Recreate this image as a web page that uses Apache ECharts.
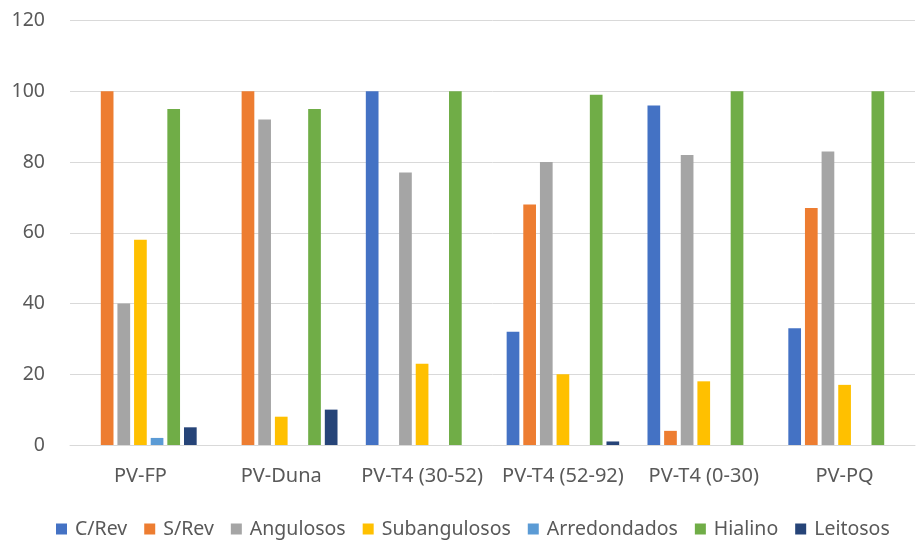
<!DOCTYPE html>
<html><head><meta charset="utf-8">
<script src="https://cdn.jsdelivr.net/npm/echarts@6/dist/echarts.min.js"></script>
<style>html,body{margin:0;padding:0;background:#fff}#c{width:917px;height:545px}</style>
</head><body><div id="c"></div>
<script>
var categories = ['PV-FP', 'PV-Duna', 'PV-T4 (30-52)', 'PV-T4 (52-92)', 'PV-T4 (0-30)', 'PV-PQ'];
var cRev = [0, 0, 100, 32, 96, 33];
var sRev = [100, 100, 0, 68, 4, 67];
var angulosos = [40, 92, 77, 80, 82, 83];
var subangulosos = [58, 8, 23, 20, 18, 17];
var arredondados = [2, 0, 0, 0, 0, 0];
var hialino = [95, 95, 100, 99, 100, 100];
var leitosos = [5, 10, 0, 1, 0, 0];
var seriesNames = ['C/Rev', 'S/Rev', 'Angulosos', 'Subangulosos', 'Arredondados', 'Hialino', 'Leitosos'];
var yTicks = [0, 20, 40, 60, 80, 100, 120];
var colors = ['#4472C4', '#ED7D31', '#A5A5A5', '#FFC000', '#5B9BD5', '#70AD47', '#264478'];
var allData = [cRev, sRev, angulosos, subangulosos, arredondados, hialino, leitosos];

var chart = echarts.init(document.getElementById('c'), null, {renderer: 'canvas'});
chart.setOption({
  animation: false,
  color: colors,
  grid: {left: 70, right: 2, top: 20.5, bottom: 100, containLabel: false},
  legend: {
    top: 519, left: 56, padding: 0,
    itemWidth: 11, itemHeight: 11, itemGap: 17,
    icon: 'rect',
    textStyle: {fontFamily: '"Noto Sans", sans-serif', fontSize: 19.5, color: '#595959', padding: [0, 0, 0, 3]},
    data: seriesNames
  },
  xAxis: {
    type: 'category', data: categories,
    axisLine: {lineStyle: {color: '#D9D9D9', width: 1}},
    axisTick: {show: false},
    axisLabel: {fontFamily: '"Noto Sans", sans-serif', fontSize: 20, color: '#595959', margin: 21, interval: 0}
  },
  yAxis: {
    type: 'value', min: yTicks[0], max: yTicks[yTicks.length - 1], interval: 20,
    axisLine: {show: false}, axisTick: {show: false},
    splitLine: {lineStyle: {color: '#D9D9D9', width: 1}},
    axisLabel: {fontFamily: '"Noto Sans", sans-serif', fontSize: 19.5, color: '#595959', margin: 25}
  },
  series: seriesNames.map(function (n, i) {
    return {name: n, type: 'bar', data: allData[i], barWidth: 12.7, barGap: '31%'};
  })
});
</script></body></html>
